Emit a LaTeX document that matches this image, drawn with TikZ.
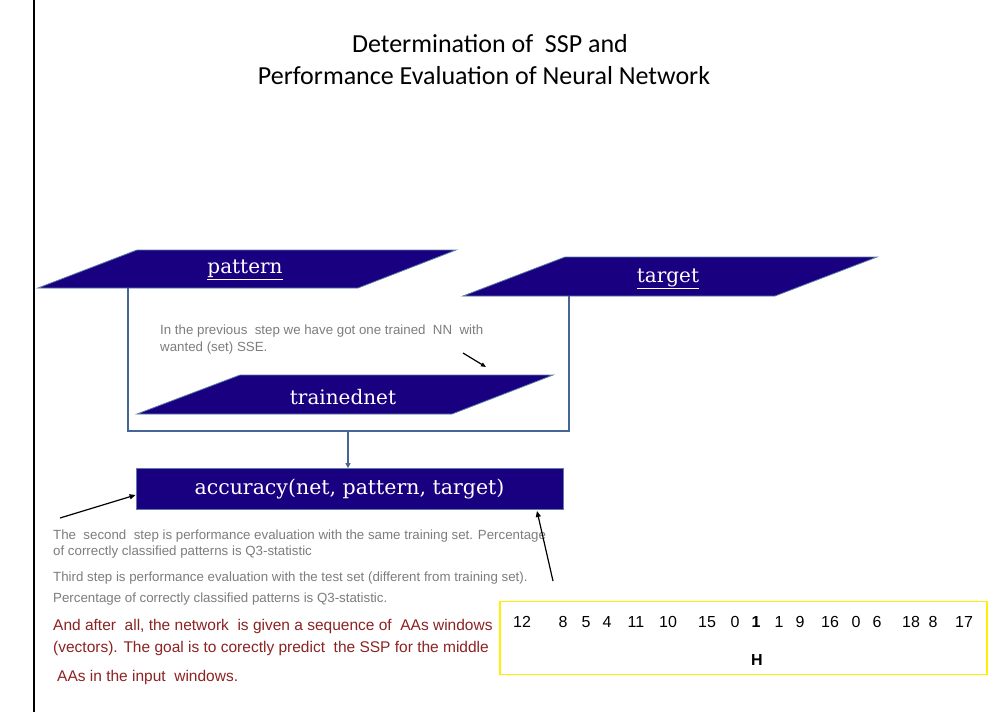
\documentclass[tikz,border=0pt]{standalone}
\usepackage{fontspec}
\setmainfont{Liberation Sans}
\newfontfamily\titlefont{Carlito}
\newfontfamily\labelfont{DejaVu Serif}
\usetikzlibrary{arrows.meta}

\definecolor{navy}{RGB}{24,0,128}
\definecolor{edgeblue}{RGB}{90,125,170}
\definecolor{linkblue}{RGB}{70,100,150}
\definecolor{notegray}{RGB}{125,125,125}
\definecolor{notered}{RGB}{140,35,35}

\tikzset{
  datashape/.style={fill=navy, draw=edgeblue, line width=0.8pt},
  link/.style={draw=linkblue, line width=1.3pt},
  pointer/.style={draw=black, line width=1.2pt, -{Triangle[length=6pt,width=5pt]}},
  shapelabel/.style={text=white, font=\labelfont\fontsize{20}{22}\selectfont, inner sep=0pt},
  note/.style={text=notegray, anchor=west, inner sep=0pt, font=\fontsize{13.3}{15}\selectfont},
  rednote/.style={text=notered, anchor=west, inner sep=0pt, font=\fontsize{15.5}{17}\selectfont},
  digit/.style={inner sep=0pt, font=\fontsize{16}{18}\selectfont},
}

\begin{document}
\begin{tikzpicture}[x=1pt, y=-1pt]
\useasboundingbox (0,0) rectangle (989,712);
\fill[white] (0,0) rectangle (989,712);

% page edge on the left
\draw[black, line width=1.8pt] (34,0) -- (34,712);

% title
\node (title1) at (490,44) {\titlefont\fontsize{26}{28}\selectfont Determination of \ SSP and};
\node (title2) at (484,76) {\titlefont\fontsize{26}{28}\selectfont Performance Evaluation of Neural Network};

% input data shapes
\filldraw[datashape] (137,250) -- (456,250) -- (358,288) -- (38,288) -- cycle;
\node[shapelabel] (pattern) at (245,270) {\underline{pattern}};
\filldraw[datashape] (565,257) -- (877,257) -- (775,296) -- (463,296) -- cycle;
\node[shapelabel] (target) at (668,279) {\underline{target}};
\filldraw[datashape] (240,375) -- (553,375) -- (452,414) -- (137,414) -- cycle;
\node[shapelabel] (trained) at (343,397) {trainednet};

% connection points on the shapes
\coordinate (pbot) at (128,288);
\coordinate (tbot) at (569,296);
\coordinate (join) at (348,431);

% function box
\node[fill=navy, draw=edgeblue, line width=0.8pt, minimum width=427pt, minimum height=41pt, inner sep=0pt,
      text=white, font=\labelfont\fontsize{20.5}{23}\selectfont] (acc) at (349.5,489) {accuracy(net, pattern, target)};

% data flow into the function
\draw[link] (pbot) -- (128,431) -- (569,431) -- (tbot);
\draw[link, -{Triangle[length=5pt,width=5pt]}] (join) -- (acc.north -| join);

% notes
\node[note] (n1a) at (160,331) {In the previous \ step we have got one trained \ NN \ with};
\node[note] (n1b) at (160,348) {wanted (set) SSE.};
\coordinate (p1s) at (463,353);
\coordinate (p1e) at (486,367);
\draw[pointer, -{Triangle[length=5pt,width=4pt]}] (p1s) -- (p1e);

\node[note] (n2a) at (53,536) {The \ second \ step is performance evaluation with the same training set. Percentage};
\node[note] (n2b) at (53,552) {of correctly classified patterns is Q3-statistic};
\node[note] (n3a) at (53,578) {Third step is performance evaluation with the test set (different from training set).};
\node[note] (n3b) at (53,599) {Percentage of correctly classified patterns is Q3-statistic.};

\node[rednote] (n4a) at (53,626) {And after \ all, the network \ is given a sequence of \ AAs windows};
\node[rednote] (n4b) at (53,648) {(vectors). The goal is to corectly predict \ the SSP for the middle};
\node[rednote] (n4c) at (57,677) {AAs in the input \ windows.};

\coordinate (p2s) at (60,518);
\coordinate (p3s) at (553,581);
\draw[pointer] (p2s) -- (acc.west |- 0,495);
\draw[pointer] (p3s) -- (537,511);

% window of amino-acid codes
\node[draw={rgb,255:red,255;green,240;blue,0}, line width=1.8pt, minimum width=487pt, minimum height=73pt, inner sep=0pt] (window) at (743.5,638) {};
\foreach \v/\px [count=\i] in {12/522,8/563,5/586,4/607,11/636,10/668,15/707,0/735,1/756,1/779,9/800,16/830,0/856,6/877,18/911,8/933,17/964}{
  \node[digit] (d\i) at (\px,622) {\ifnum\i=9 \textbf{\v}\else\v\fi};
}
\node[digit, font=\bfseries\fontsize{16}{18}\selectfont] (mid) at (757,660) {H};
\end{tikzpicture}
\end{document}
